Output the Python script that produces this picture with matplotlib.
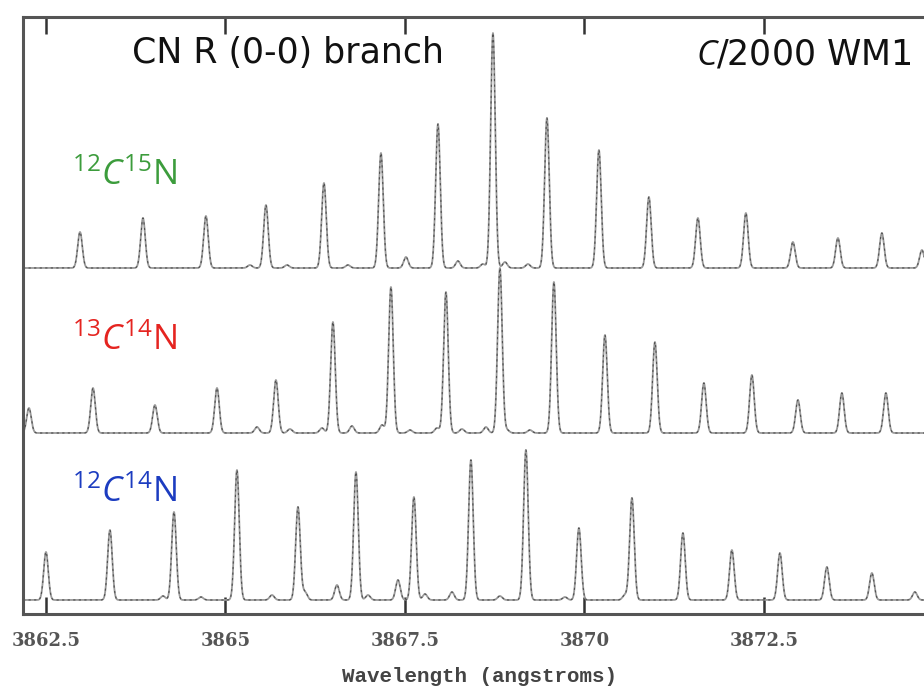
import numpy as np
import matplotlib
matplotlib.use("Agg")
import matplotlib.pyplot as plt

# line lists: centre (angstrom) and strength
c15n_wl = [3862.974, 3863.851, 3864.728, 3865.564, 3866.372, 3867.166, 3867.960,
           3868.726, 3869.478, 3870.202, 3870.898, 3871.581, 3872.249, 3872.904,
           3873.531, 3874.143, 3874.701,
           3865.341, 3865.857, 3866.706, 3867.514, 3868.238, 3868.586, 3868.893, 3869.213]
c15n_h = [0.36, 0.50, 0.52, 0.63, 0.85, 1.15, 1.44, 2.35, 1.50, 1.18, 0.71, 0.50, 0.55,
          0.26, 0.30, 0.35, 0.18,
          0.03, 0.03, 0.03, 0.11, 0.07, 0.04, 0.06, 0.04]

c13_wl = [3862.263, 3863.155, 3864.018, 3864.882, 3865.703, 3866.497, 3867.305,
          3868.071, 3868.823, 3869.575, 3870.286, 3870.982, 3871.664, 3872.333,
          3872.974, 3873.586, 3874.199,
          3865.439, 3865.898, 3866.344, 3866.762, 3867.180, 3867.570, 3867.946,
          3868.294, 3868.628, 3868.921, 3869.241]
c13_h = [0.25, 0.45, 0.28, 0.45, 0.53, 1.11, 1.46, 1.41, 1.65, 1.51, 0.98, 0.91, 0.50,
         0.58, 0.33, 0.40, 0.40,
         0.06, 0.04, 0.05, 0.07, 0.08, 0.03, 0.05, 0.04, 0.06, 0.03, 0.03]

c12_wl = [3862.500, 3863.391, 3864.283, 3865.160, 3866.010, 3866.818, 3867.625,
          3868.419, 3869.185, 3869.923, 3870.662, 3871.372, 3872.054, 3872.723,
          3873.377, 3874.004, 3874.603,
          3864.130, 3864.659, 3865.648, 3866.107, 3866.553, 3866.985, 3867.403,
          3867.779, 3868.155, 3868.823, 3869.728, 3870.564]
c12_h = [0.48, 0.70, 0.88, 1.30, 0.93, 1.28, 1.03, 1.40, 1.50, 0.72, 1.02, 0.67, 0.50,
         0.47, 0.33, 0.27, 0.08,
         0.04, 0.03, 0.05, 0.08, 0.15, 0.05, 0.20, 0.06, 0.08, 0.04, 0.03, 0.05]

offsets = [3.46, 1.81, 0.14]
names = [r"$^{12}\mathit{C}^{15}\mathrm{N}$", r"$^{13}\mathit{C}^{14}\mathrm{N}$",
         r"$^{12}\mathit{C}^{14}\mathrm{N}$"]
colors = ["#3c9c3c", "#e52420", "#1c3cc0"]
ticks = [3862.5, 3865, 3867.5, 3870, 3872.5]
tick_labels = ["3862.5", "3865", "3867.5", "3870", "3872.5"]

plt.rcParams['mathtext.fontset'] = 'custom'
plt.rcParams['mathtext.rm'] = 'Open Sans'
plt.rcParams['mathtext.it'] = 'Open Sans:italic'

def spectrum(wl, cen, h, sig=0.032):
    out = np.zeros_like(wl)
    for c, a in zip(cen, h):
        out += a * np.exp(-0.5 * ((wl - c) / sig) ** 2)
    return out

fig = plt.figure(figsize=(9.24, 6.87), dpi=100)
ax = fig.add_axes([23/924, 73/687, 1 - 23/924, 597/687])

wl = np.arange(3862.0, 3875.0, 0.002)
lines = [(c15n_wl, c15n_h), (c13_wl, c13_h), (c12_wl, c12_h)]
for (cen, h), off in zip(lines, offsets):
    y = off + spectrum(wl, cen, h)
    ax.plot(wl, y, color="#9a9a9a", lw=1.3)
    ax.plot(wl, y, color="#505050", lw=0.8, dashes=(2, 3))

ax.set_xlim(3862.18, 3874.73)
ax.set_ylim(0, 5.97)
ax.set_yticks([])
ax.set_xticks(ticks)
ax.set_xticklabels(tick_labels, family="DejaVu Serif", weight="bold",
                   fontsize=13, color="#555555")
ax.tick_params(axis="x", direction="in", length=12, width=1.8, color="#333333",
               top=True, pad=13)
for s in ["left", "top", "bottom"]:
    ax.spines[s].set_linewidth(2.2)
    ax.spines[s].set_color("#555555")
ax.spines["right"].set_visible(False)

fig.text(479/924, 1 - 677/687, "Wavelength (angstroms)", family="Liberation Mono",
         weight="bold", fontsize=15, color="#444444", ha="center", va="center")

fig.text(132/924, 1 - 53/687, "CN R (0-0) branch", family="DejaVu Sans",
         fontsize=25, color="#111111", ha="left", va="center")
fig.text(912/924, 1 - 55/687, r"$\mathit{C}$/2000 WM1", family="DejaVu Sans",
         fontsize=25, color="#111111", ha="right", va="center")

label_y = [175, 340, 492]
for n, c, ly in zip(names, colors, label_y):
    fig.text(72/924, 1 - ly/687, n, fontsize=25, color=c, ha="left", va="center")

fig.savefig("out.png", dpi=100)
